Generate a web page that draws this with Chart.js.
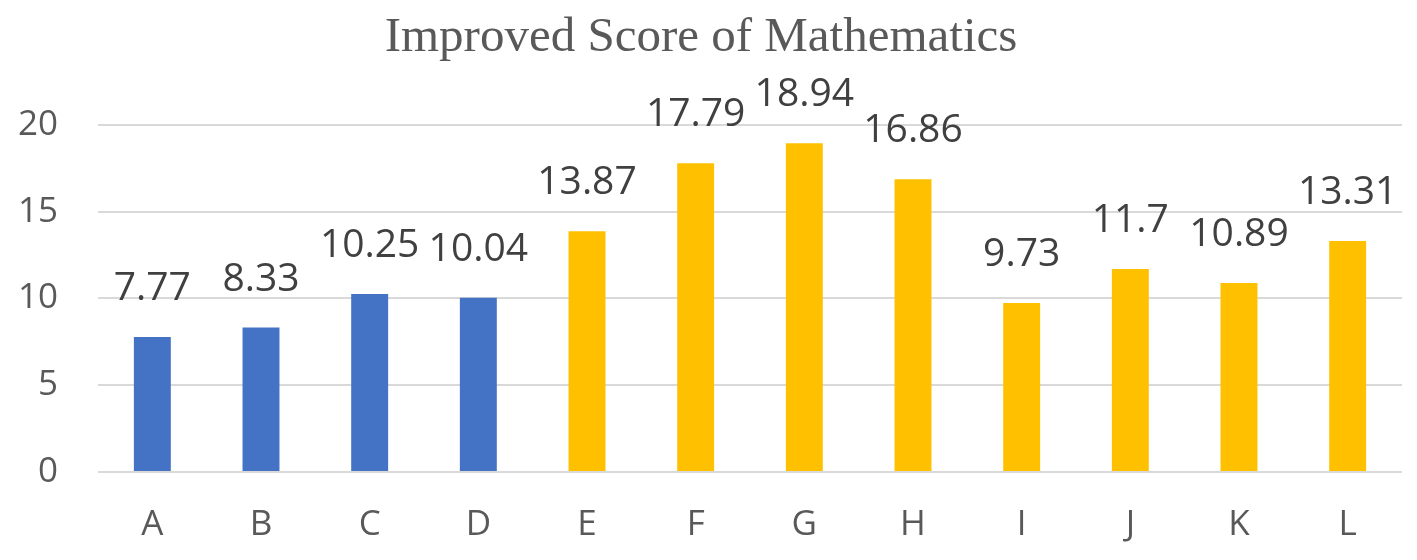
<!DOCTYPE html>
<html>
<head>
<meta charset="utf-8">
<script src="https://cdn.jsdelivr.net/npm/chart.js@4/dist/chart.umd.min.js"></script>
<style>
  html, body { margin: 0; padding: 0; background: #ffffff; }
  #wrap { width: 1417px; height: 560px; }
</style>
</head>
<body>
<div id="wrap"><canvas id="c" width="1417" height="560"></canvas></div>
<script>
const titleText = "Improved Score of Mathematics";
const categories = ["A", "B", "C", "D", "E", "F", "G", "H", "I", "J", "K", "L"];
const scores = [7.77, 8.33, 10.25, 10.04, 13.87, 17.79, 18.94, 16.86, 9.73, 11.7, 10.89, 13.31];
const groups = ["first", "first", "first", "first", "second", "second", "second", "second", "second", "second", "second", "second"];
const yTicks = [0, 5, 10, 15, 20];

const groupColors = { first: "#4472C4", second: "#FFC000" };

const valueLabels = {
  id: "valueLabels",
  afterDatasetsDraw(chart) {
    const ctx = chart.ctx;
    const meta = chart.getDatasetMeta(0);
    ctx.save();
    ctx.font = "39px 'Open Sans', 'Liberation Sans', sans-serif";
    ctx.fillStyle = "#404040";
    ctx.textAlign = "center";
    ctx.textBaseline = "middle";
    meta.data.forEach((bar, i) => {
      ctx.fillText(String(scores[i]), bar.x, bar.y - 48);
    });
    ctx.restore();
  }
};

new Chart(document.getElementById("c"), {
  type: "bar",
  data: {
    labels: categories,
    datasets: [{
      data: scores,
      backgroundColor: (c) => groupColors[groups[c.dataIndex]],
      borderWidth: 0,
      barPercentage: 0.34,
      categoryPercentage: 1.0
    }]
  },
  options: {
    responsive: false,
    animation: false,
    layout: { padding: { left: 0, right: 15, top: 0, bottom: 0 } },
    plugins: {
      legend: { display: false },
      tooltip: { enabled: false },
      title: {
        display: true,
        text: titleText,
        color: "#595959",
        font: { family: "'Liberation Serif', 'DejaVu Serif', serif", size: 49, weight: "normal", lineHeight: 1.2 },
        padding: { top: 9, bottom: 57 }
      }
    },
    scales: {
      x: {
        grid: { display: false, drawTicks: false },
        border: { display: false },
        ticks: {
          color: "#595959",
          font: { family: "'Open Sans', 'Liberation Sans', sans-serif", size: 35 },
          padding: 32
        },
        afterFit(scale) { scale.height = 88; }
      },
      y: {
        min: 0,
        max: 20,
        afterBuildTicks(scale) { scale.ticks = yTicks.map(v => ({ value: v })); },
        grid: { color: "#d9d9d9", lineWidth: 2, drawTicks: false },
        border: { display: false },
        ticks: {
          color: "#595959",
          font: { family: "'Open Sans', 'Liberation Sans', sans-serif", size: 35 },
          padding: 40
        },
        afterFit(scale) { scale.width = 98; }
      }
    }
  },
  plugins: [valueLabels]
});
</script>
</body>
</html>
